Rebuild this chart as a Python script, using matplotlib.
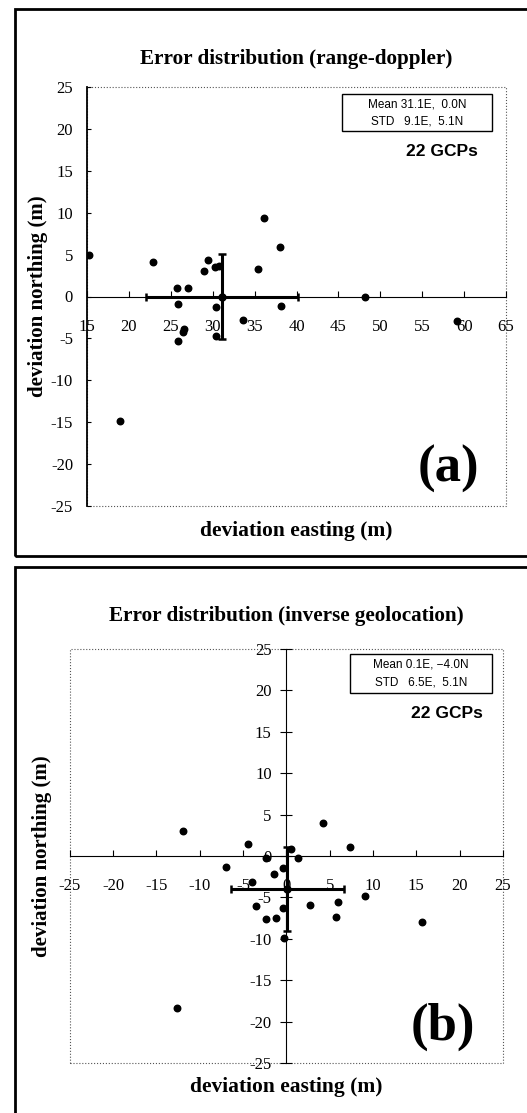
import numpy as np
import matplotlib
matplotlib.use("Agg")
import matplotlib.pyplot as plt
from matplotlib.patches import Rectangle

plt.rcParams['font.family'] = ['Liberation Serif', 'DejaVu Serif']
plt.rcParams['axes.unicode_minus'] = False

# (a) range-doppler
rd_east = [15.2, 22.9, 29.4, 29.0, 30.3, 30.7, 35.4, 36.1, 38.0, 25.7, 27.05,
           25.8, 30.4, 33.6, 26.6, 26.5, 25.8, 30.4, 38.1, 48.2, 59.2, 18.9]
rd_north = [5.0, 4.1, 4.4, 3.1, 3.5, 3.6, 3.3, 9.35, 5.9, 0.96, 0.96,
            -0.92, -1.28, -2.8, -3.9, -4.2, -5.3, -4.7, -1.1, 0.0, -2.9, -14.9]
rd_mean = (31.1, 0.0)
rd_std = (9.1, 5.1)

# (b) inverse geolocation
ig_east = [-4.45, -2.3, 0.5, 1.3, 4.2, 7.4, -0.4, -1.4, -4.0, -3.5, -2.3,
           -1.2, -0.35, 2.7, 6.0, 5.7, 9.1, -11.9, -6.9, -0.27, 15.6, -12.6]
ig_north = [1.45, -0.3, 0.9, -0.2, 4.0, 1.05, -1.5, -2.2, -3.2, -6.0, -7.6,
            -7.5, -6.3, -5.9, -5.5, -7.4, -4.8, 3.0, -1.3, -9.9, -8.0, -18.3]
ig_mean = (0.1, -4.0)
ig_std = (6.5, 5.1)

fig = plt.figure(figsize=(5.27, 11.13), dpi=100)

# outer frames of the two panels (figure pixel coords -> fraction)
W, H = 527, 1113
for (x0, y0, x1, y1) in [(15, 9, 532, 556), (15, 567, 532, 1125)]:
    fig.patches.append(Rectangle((x0 / W, 1 - y1 / H), (x1 - x0) / W, (y1 - y0) / H,
                                 transform=fig.transFigure, fill=False,
                                 ec='black', lw=2.0))


def panel(rect, east, north, mean, std, xlim, title, title_y, tag,
          legend_lines, ylab_x, xlab_y, box, yspine_zero):
    ax = fig.add_axes(rect)
    ax.set_xlim(*xlim)
    ax.set_ylim(-25, 25)
    ax.scatter(east, north, s=22, color='black', zorder=3)
    ax.errorbar(mean[0], mean[1], xerr=std[0], yerr=std[1], fmt='o', color='black',
                ms=5, elinewidth=2.2, capsize=3, capthick=1.8, zorder=4)

    ax.xaxis.set_ticks(np.arange(xlim[0], xlim[1] + 1, 5))
    ax.yaxis.set_ticks(np.arange(-25, 26, 5))

    for s in ['top', 'right']:
        ax.spines[s].set_visible(False)
    ax.spines['bottom'].set_position(('data', 0))
    ax.spines['bottom'].set_linewidth(0.8)
    if yspine_zero:
        ax.spines['left'].set_position(('data', 0))
        ax.spines['left'].set_linewidth(0.8)
        ax.tick_params(axis='y', direction='inout', length=8, pad=6.5, labelsize=12)
    else:
        ax.spines['left'].set_linewidth(1.3)
        ax.tick_params(axis='y', direction='in', length=3, pad=10, labelsize=12)
    ax.tick_params(axis='x', direction='in', length=4, pad=16, labelsize=12)

    # dotted plot-area border
    ax.add_patch(Rectangle((0, 0), 1, 1, transform=ax.transAxes, fill=False,
                           ec='#555555', lw=0.8, ls=':', clip_on=False, zorder=0))

    ax.set_xlabel('deviation easting (m)', fontsize=15.5, fontweight='bold', va='center')
    ax.xaxis.set_label_coords(0.5, xlab_y)
    ax.set_ylabel('deviation northing (m)', fontsize=15, fontweight='bold', va='center')
    ax.yaxis.set_label_coords(ylab_x, 0.5)

    fig.text(rect[0] + rect[2] / 2, title_y, title, fontsize=15.2,
             fontweight='bold', ha='center', va='center')

    bx0, by0, bx1, by1 = box
    ax.add_patch(Rectangle((bx0, by0), bx1 - bx0, by1 - by0, transform=ax.transAxes,
                           fill=False, ec='black', lw=1.0, clip_on=False, zorder=5))
    cx = (bx0 + bx1) / 2
    ax.text(cx, by0 + (by1 - by0) * 0.73, legend_lines[0], transform=ax.transAxes,
            ha='center', va='center', fontsize=8.5, family='Liberation Sans')
    ax.text(cx, by0 + (by1 - by0) * 0.27, legend_lines[1], transform=ax.transAxes,
            ha='center', va='center', fontsize=8.5, family='Liberation Sans')
    ax.text(cx + 0.06, by0 - 0.05, '22 GCPs', transform=ax.transAxes, ha='center',
            va='center', fontsize=12.5, fontweight='bold', family='Liberation Sans')
    ax.text(0.862, 0.088, tag, transform=ax.transAxes, ha='center', va='center',
            fontsize=38, fontweight='bold')
    return ax


panel([87 / W, 1 - 506 / H, 419 / W, 419 / H], rd_east, rd_north, rd_mean, rd_std,
      (15, 65), 'Error distribution (range-doppler)', 1 - 59 / H, '(a)',
      ['Mean 31.1E,  0.0N', 'STD   9.1E,  5.1N'], -0.118, -0.06,
      (0.609, 0.895, 0.967, 0.983), False)

panel([69.6 / W, 1 - 1063 / H, 433.4 / W, 414 / H], ig_east, ig_north, ig_mean, ig_std,
      (-25, 25), 'Error distribution (inverse geolocation)', 1 - 616 / H, '(b)',
      ['Mean 0.1E, \u22124.0N', 'STD   6.5E,  5.1N'], -0.064, -0.058,
      (0.647, 0.894, 0.975, 0.988), True)

plt.savefig('out.png', dpi=100)
